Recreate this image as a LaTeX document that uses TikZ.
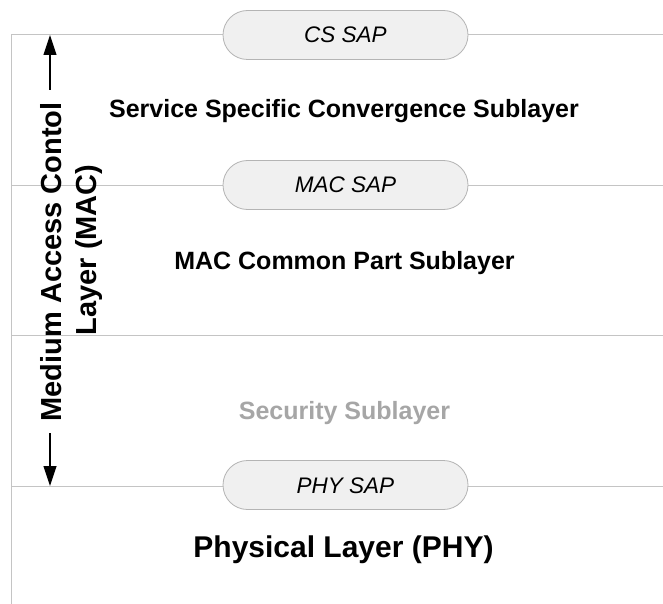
\documentclass[tikz,border=0pt]{standalone}
\usepackage{fontspec}
\setmainfont{Liberation Sans}
\usetikzlibrary{arrows.meta}
\definecolor{rulegray}{HTML}{C4C4C4}
\definecolor{sapfill}{HTML}{F0F0F0}
\definecolor{sapedge}{HTML}{B4B4B4}
\definecolor{secgray}{HTML}{A6A6A6}
\begin{document}
\begin{tikzpicture}[x=1pt,y=-1pt,
  rule/.style={draw=rulegray,line width=1pt},
  sap/.style={draw=sapedge,fill=sapfill,line width=0.8pt,rounded corners=24.5pt,
    minimum width=245pt,minimum height=49pt,inner sep=0pt,
    text height=16pt,text depth=0pt,
    font=\fontsize{22.5}{26}\selectfont\itshape},
  layer/.style={font=\fontsize{25}{30}\selectfont\bfseries,inner sep=0pt,anchor=base},
  side/.style={rotate=90,anchor=base,inner sep=0pt,font=\fontsize{29}{35}\selectfont\bfseries},
  span/.style={-{Triangle[length=20pt,width=13pt]},line width=1.2pt}]
\useasboundingbox (0,0) rectangle (663,604);
\fill[white] (0,0) rectangle (663,604);

% layer boundaries
\coordinate (l0) at (11,35);  \coordinate (r0) at (663,35);
\coordinate (l1) at (11,185); \coordinate (r1) at (663,185);
\coordinate (l2) at (11,335); \coordinate (r2) at (663,335);
\coordinate (l3) at (11,486); \coordinate (r3) at (663,486);
\coordinate (lb) at (11,604);
\draw[rule] (l0) -- (r0);
\draw[rule] (l1) -- (r1);
\draw[rule] (l2) -- (r2);
\draw[rule] (l3) -- (r3);
\draw[rule] (l0) -- (lb);

% service access points
\node[sap] (cssap)  at (345.5,35)  {CS SAP};
\node[sap] (macsap) at (345.5,185) {MAC SAP};
\node[sap] (physap) at (345.5,485) {PHY SAP};

% sublayer names
\node[layer] (cs)  at (344,118) {Service Specific Convergence Sublayer};
\node[layer] (cps) at (344.5,269) {MAC Common Part Sublayer};
\node[layer,text=secgray] (sec) at (344.5,419) {Security Sublayer};
\node[layer,font=\fontsize{30}{34}\selectfont\bfseries] (phy) at (343.5,557) {Physical Layer (PHY)};

% extent of the MAC layer
\node[side] (maca) at (61,262) {Medium Access Contol};
\node[side] (macb) at (96,250) {Layer (MAC)};
\coordinate (mactop) at (50,35);
\coordinate (macbot) at (50,486);
\coordinate (macup) at (50,90);
\coordinate (macdn) at (50,433);
\draw[span] (macup) -- (mactop);
\draw[span] (macdn) -- (macbot);
\end{tikzpicture}
\end{document}
